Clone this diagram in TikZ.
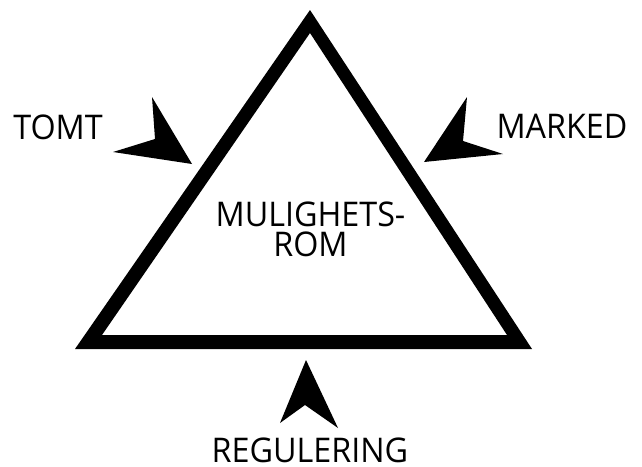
\documentclass[tikz,border=0pt]{standalone}
\usepackage{fontspec}
\setmainfont{Open Sans}[FakeStretch=0.95]
\begin{document}
\begin{tikzpicture}[x=1pt,y=-1pt,
  label/.style={font=\fontsize{34}{30}\selectfont, inner sep=0pt, anchor=base, text=black},
  head/.style={fill=black}]
\fill[white] (0,0) rectangle (642,466);
\useasboundingbox (0,0) rectangle (642,466);

% thick outlined triangle
\fill[black, even odd rule]
  (310,10) -- (75,349) -- (532,349) -- cycle
  (310,33) -- (102,335) -- (507,335) -- cycle;

% text inside the triangle
\node[label, align=center, anchor=center] (space) at (310.5,229.5) {MULIGHETS-\\ROM};

% outer labels
\node[label] (tomt) at (58,139) {TOMT};
\node[label] (marked) at (562,138) {MARKED};
\node[label] (reg) at (310,462) {REGULERING};

% arrowheads pointing at the triangle
\fill[head] (192,164) -- (113,152) -- (155,139) -- (152,97) -- cycle;
\fill[head] (424,162) -- (467,97) -- (463,141) -- (503,154) -- cycle;
\fill[head] (306,360) -- (338,428) -- (305,405) -- (280,423) -- cycle;
\end{tikzpicture}
\end{document}
